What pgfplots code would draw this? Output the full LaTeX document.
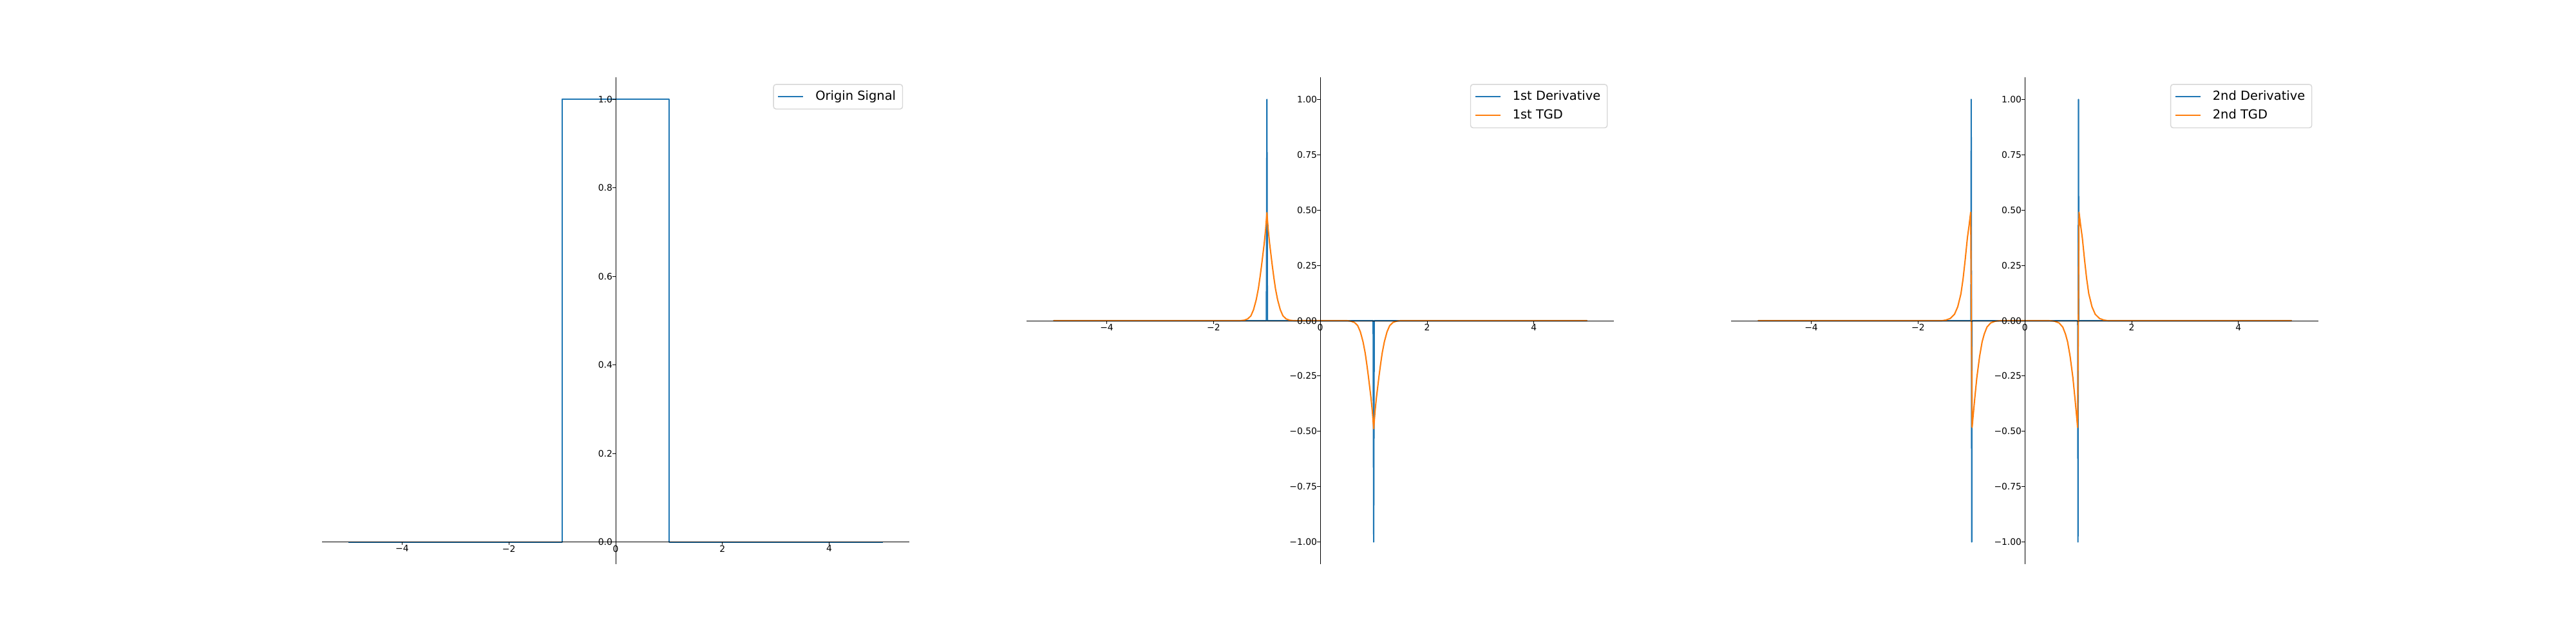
\documentclass[border=0pt]{standalone}
\usepackage{fontspec}
\setmainfont{DejaVu Sans}
\usepackage{pgfplots}
\pgfplotsset{compat=1.18}

\definecolor{mplblue}{HTML}{1F77B4}
\definecolor{mplorange}{HTML}{FF7F0E}
\definecolor{legframe}{HTML}{D6D6D6}

% shared look of the three panels (1px of the reference = 0.72pt)
\pgfplotsset{
  sigpanel/.style={
    anchor=south west, scale only axis,
    width=656.6pt, height=544.3pt,
    xmin=-5.5, xmax=5.5,
    axis lines=middle, axis on top,
    axis line style={-, line width=0.65pt, black},
    every inner x axis line/.append style={-, line width=0.65pt},
    every inner y axis line/.append style={-, line width=0.65pt},
    every tick/.style={black, line width=0.65pt},
    major tick length=3.5pt, tick align=outside,
    hide obscured x ticks=false, hide obscured y ticks=false,
    xtick={-4,-2,0,2,4},
    xticklabels={−4,−2,0,2,4},
    xticklabel style={anchor=north, inner sep=0pt, font=\fontsize{10pt}{12pt}\selectfont},
    yticklabel style={anchor=east, inner sep=0pt, font=\fontsize{10pt}{12pt}\selectfont},
    every axis plot/.append style={line width=1.5pt, line join=round},
    legend cell align=left,
    legend image code/.code={\draw[##1, line width=1.5pt] (0pt,0pt) -- (28pt,0pt);},
    legend style={
      at={(1,1)}, anchor=north east, xshift=-7pt, yshift=-7.5pt,
      draw=legframe, line width=1pt, rounded corners=2.8pt, fill=white,
      font=\fontsize{14pt}{16.8pt}\selectfont,
      inner xsep=4.5pt, inner ysep=4pt,
      row sep=1.5pt, column sep=10pt,
      nodes={inner xsep=3pt, inner ysep=3pt, text height=10.5pt, text depth=3pt}
    },
  }
}

\begin{document}
\begin{tikzpicture}
\path[use as bounding box] (0pt,0pt) rectangle (2880pt,720pt);

% panel 1: the pulse
\begin{axis}[sigpanel, at={(360pt,89.3pt)},
  ymin=-0.05, ymax=1.05,
  ytick={0,0.2,0.4,0.6,0.8,1.0},
  yticklabels={0.0,0.2,0.4,0.6,0.8,1.0}]
\addplot[mplblue] coordinates {(-5,0) (-1,0) (-1,1) (1,1) (1,0) (5,0)};
\addlegendentry{Origin Signal}
\end{axis}

% panel 2: first derivative and its TGD
\begin{axis}[sigpanel, at={(1147.8pt,89.3pt)},
  ymin=-1.1, ymax=1.1,
  ytick={-1,-0.75,-0.5,-0.25,0,0.25,0.5,0.75,1},
  yticklabels={−1.00,−0.75,−0.50,−0.25,0.00,0.25,0.50,0.75,1.00}]
\addplot[mplblue] coordinates {(-5,0) (-1.01,0) (-1,1) (-0.99,0) (0.99,0) (1,-1) (1.01,0) (5,0)};
\addlegendentry{1st Derivative}
\addplot[mplorange] coordinates {
 (-5,0) (-1.5,0) (-1.43,0.002) (-1.36,0.008) (-1.3,0.022) (-1.25,0.05) (-1.2,0.095)
 (-1.16,0.145) (-1.13,0.195) (-1.1,0.25) (-1.075,0.30) (-1.05,0.35) (-1.025,0.41)
 (-1,0.488)
 (-0.975,0.41) (-0.95,0.35) (-0.925,0.30) (-0.9,0.25) (-0.87,0.195) (-0.84,0.145)
 (-0.8,0.095) (-0.75,0.05) (-0.7,0.022) (-0.64,0.008) (-0.57,0.002) (-0.5,0)
 (0.5,0) (0.57,-0.002) (0.64,-0.008) (0.7,-0.022) (0.75,-0.05) (0.8,-0.095)
 (0.84,-0.145) (0.87,-0.195) (0.9,-0.25) (0.925,-0.30) (0.95,-0.35) (0.975,-0.41)
 (1,-0.488)
 (1.025,-0.41) (1.05,-0.35) (1.075,-0.30) (1.1,-0.25) (1.13,-0.195) (1.16,-0.145)
 (1.2,-0.095) (1.25,-0.05) (1.3,-0.022) (1.36,-0.008) (1.43,-0.002) (1.5,0) (5,0)};
\addlegendentry{1st TGD}
\end{axis}

% panel 3: second derivative and its TGD
\begin{axis}[sigpanel, at={(1935.5pt,89.3pt)},
  ymin=-1.1, ymax=1.1,
  ytick={-1,-0.75,-0.5,-0.25,0,0.25,0.5,0.75,1},
  yticklabels={−1.00,−0.75,−0.50,−0.25,0.00,0.25,0.50,0.75,1.00}]
\addplot[mplblue] coordinates {(-5,0) (-1.01,0) (-1.005,1) (-0.995,-1) (-0.99,0)
 (0.99,0) (0.995,-1) (1.005,1) (1.01,0) (5,0)};
\addlegendentry{2nd Derivative}
\addplot[mplorange] coordinates {
 (-5,0) (-1.55,0) (-1.48,0.003) (-1.398,0.01) (-1.318,0.029) (-1.257,0.063)
 (-1.197,0.122) (-1.157,0.19) (-1.117,0.277) (-1.076,0.375) (-1.045,0.43) (-1.015,0.49)
 (-0.988,-0.482) (-0.965,-0.42) (-0.94,-0.355) (-0.9,-0.258) (-0.847,-0.16)
 (-0.8,-0.095) (-0.76,-0.06) (-0.71,-0.029) (-0.64,-0.01) (-0.55,-0.002) (-0.45,0)
 (0.45,0) (0.55,-0.002) (0.64,-0.01) (0.71,-0.029) (0.76,-0.06) (0.8,-0.095)
 (0.847,-0.16) (0.9,-0.258) (0.94,-0.355) (0.965,-0.42) (0.988,-0.482)
 (1.015,0.49) (1.045,0.43) (1.076,0.375) (1.117,0.277) (1.157,0.19) (1.197,0.122)
 (1.257,0.063) (1.318,0.029) (1.398,0.01) (1.48,0.003) (1.55,0) (5,0)};
\addlegendentry{2nd TGD}
\end{axis}
\end{tikzpicture}
\end{document}
